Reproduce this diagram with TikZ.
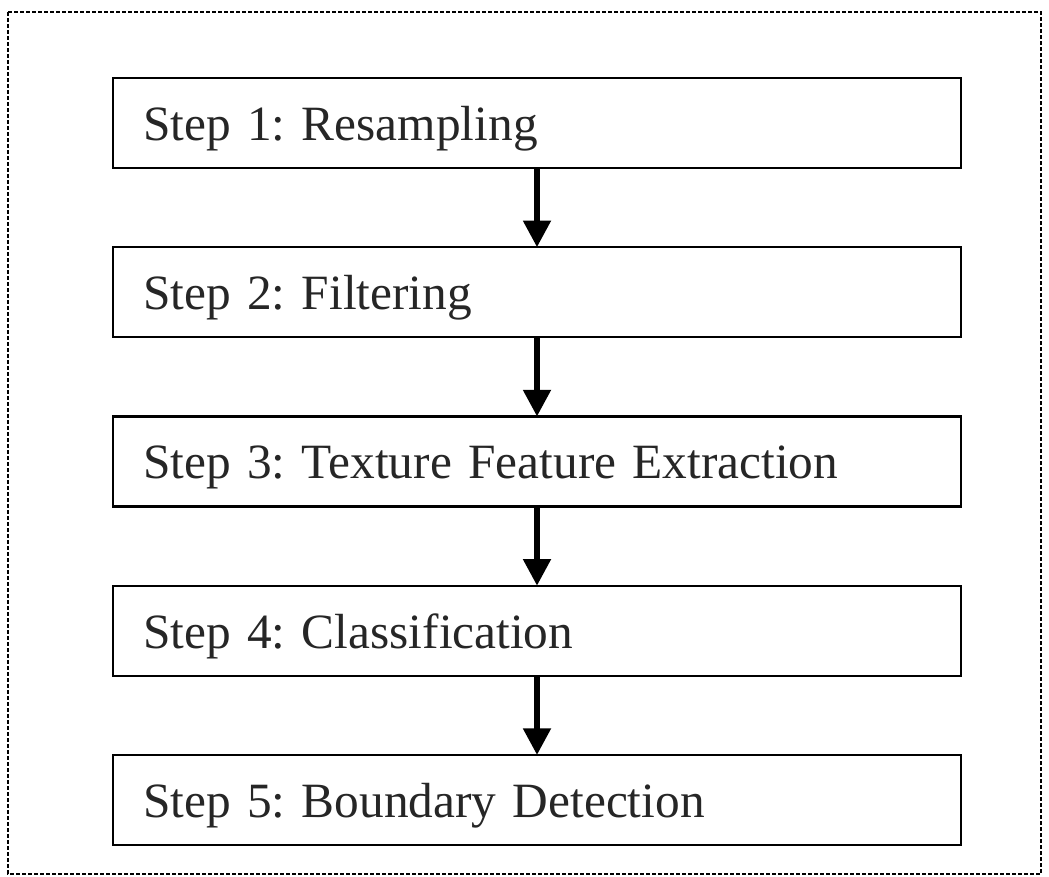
\documentclass[tikz,border=0pt]{standalone}
\usepackage{fontspec}
\setmainfont{Liberation Serif}
\usetikzlibrary{arrows.meta}

\tikzset{
  stepbox/.style={
    draw=black, line width=1.6pt, fill=white,
    minimum width=636pt, minimum height=67.5pt,
    text width=591pt, align=left, inner xsep=22.5pt, inner ysep=0pt,
    text height=26pt, text depth=0pt, outer sep=0pt,
    font=\fontsize{37}{44}\selectfont\frenchspacing, text=black!85
  },
  flow/.style={
    draw=black, line width=4.5pt,
    -{Triangle[width=20pt,length=20pt]}
  },
  frame/.style={draw=black, line width=1.3pt, dash pattern=on 3pt off 1.5pt}
}

\begin{document}
\begin{tikzpicture}[x=0.75pt,y=-0.75pt]
  % canvas
  \useasboundingbox (0,0) rectangle (1049,876);

  % surrounding frame
  \draw[frame] (8,12) rectangle (1041,874);

  % process steps
  \node[stepbox] (s1) at (537,123)    {Step 1: Resampling};
  \node[stepbox] (s2) at (537,292.25) {Step 2: Filtering};
  \node[stepbox] (s3) at (537,461.5)  {Step 3: Texture Feature Extraction};
  \node[stepbox] (s4) at (537,630.75) {Step 4: Classification};
  \node[stepbox] (s5) at (537,800)    {Step 5: Boundary Detection};

  % connectors between consecutive steps
  \draw[flow] (s1.south) -- (s2.north);
  \draw[flow] (s2.south) -- (s3.north);
  \draw[flow] (s3.south) -- (s4.north);
  \draw[flow] (s4.south) -- (s5.north);
\end{tikzpicture}
\end{document}
